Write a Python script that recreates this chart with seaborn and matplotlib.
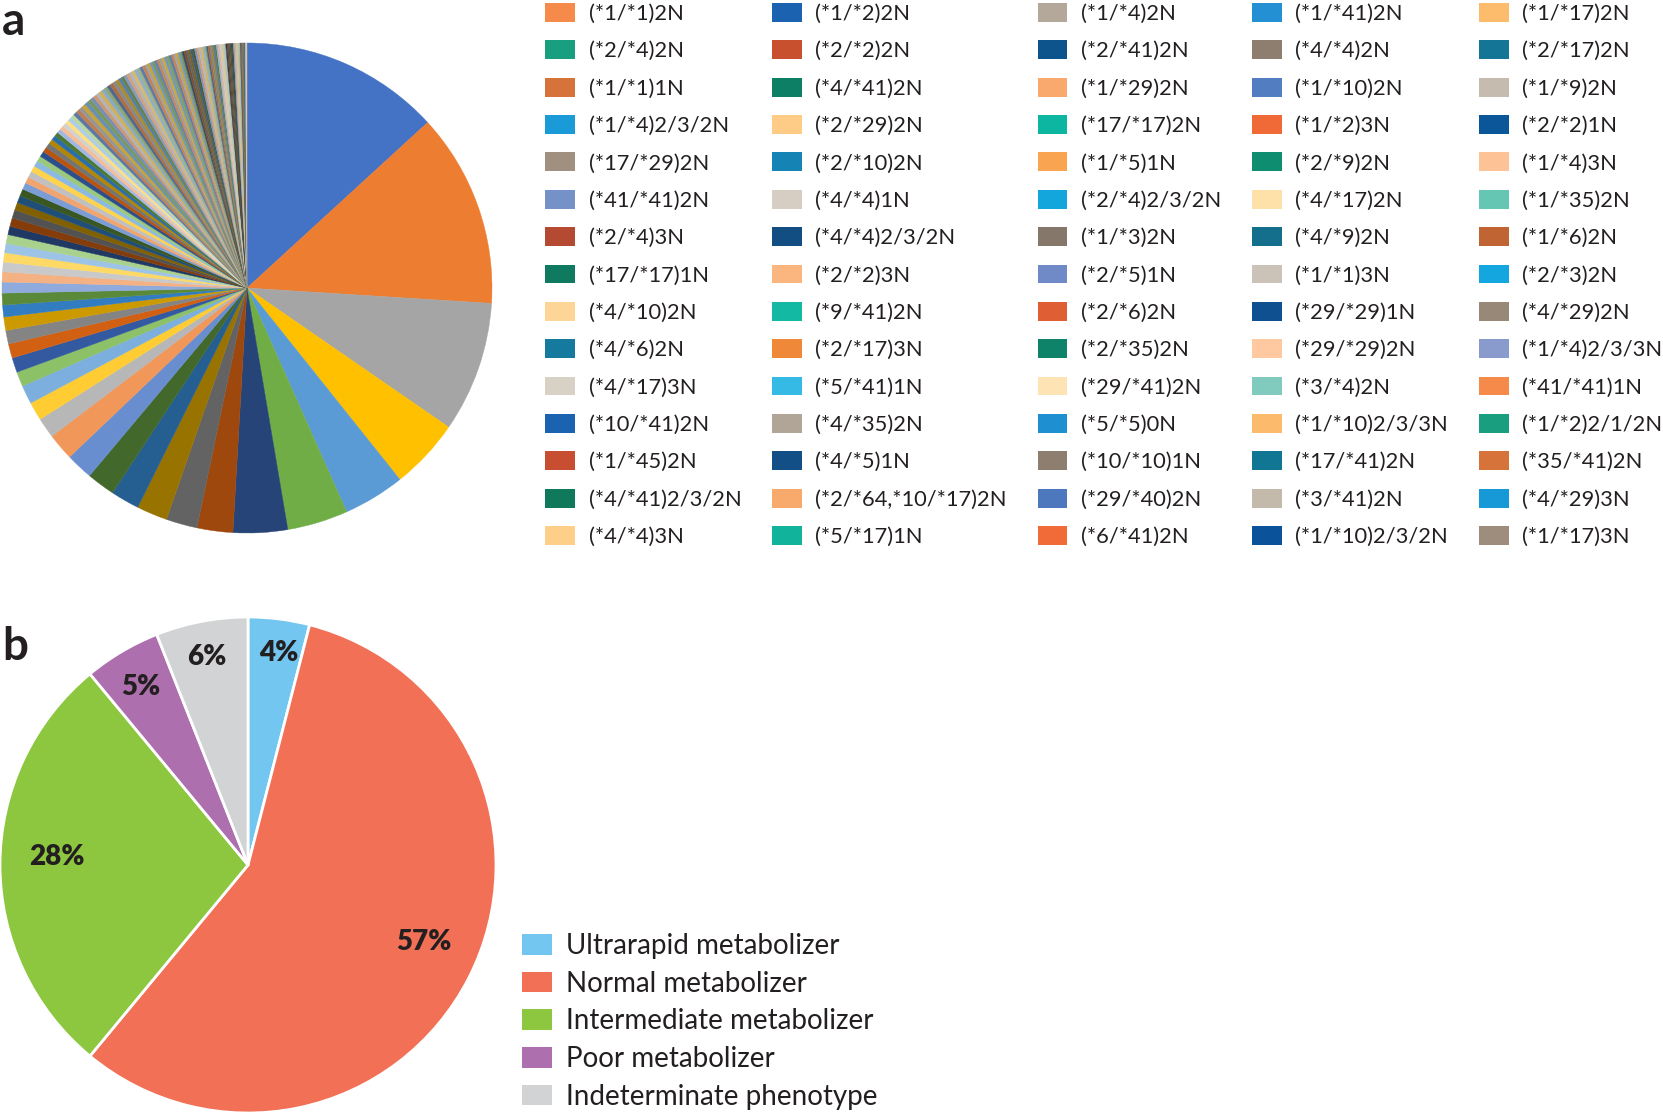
import colorsys
import numpy as np
import matplotlib
matplotlib.use("Agg")
import matplotlib.pyplot as plt
from matplotlib.patches import Patch
from matplotlib.colors import to_rgb, to_hex
import seaborn as sns

sns.set_theme(style="white")
plt.rcParams["font.family"] = ["Lato", "DejaVu Sans"]
TXT = "#231F20"

# ---------------- data: panel a (genotype shares, relative units) ----------------
genotype_freq = [
    47.5, 46.1, 31.0, 16.8, 14.6, 14.4, 12.9, 8.5, 7.4, 7.3,
    6.8, 6.7, 6.4, 6.4, 4.8, 4.4, 4.4, 3.5, 3.5, 3.4,
    3.2, 3.2, 2.8, 2.8, 2.6, 2.4, 2.3, 2.2, 2.2, 2.1,
    2.0, 2.0, 2.0, 1.8, 1.7, 1.7, 1.6, 1.5, 1.5, 1.4,
    1.4, 1.3, 1.3, 1.2, 1.2, 1.1, 1.1, 1.0, 1.0, 1.0,
    0.9, 0.9, 0.9, 0.9, 0.9, 0.9, 0.9, 0.9, 0.9, 0.9,
    0.8, 0.8, 0.8, 0.8, 0.8, 0.8, 0.8, 0.8, 0.8, 0.8,
    0.7, 0.7, 0.7, 0.7, 0.7, 0.7, 0.7, 0.7, 0.7, 0.7,
    0.6, 0.6, 0.6, 0.6, 0.6, 0.6, 0.6, 0.6, 0.6, 0.6, 0.6, 0.6,
    0.5, 0.5, 0.5, 0.5, 0.5, 0.5, 0.5, 0.5, 0.5, 0.5, 0.5, 0.5, 0.5, 0.5,
    0.4, 0.4, 0.4, 0.4, 0.4, 0.4, 0.4, 0.4, 0.4, 0.4, 0.4, 0.4,
    0.3, 0.3, 0.3, 0.3, 0.3, 0.3, 0.3, 0.3, 0.3, 0.3, 0.3, 0.3,
    0.2, 0.2, 0.2, 0.2, 0.2, 0.2, 0.2, 0.2, 0.2, 0.2,
]

legend_labels = [
    "(*1/*1)2N", "(*2/*4)2N", "(*1/*1)1N", "(*1/*4)2/3/2N", "(*17/*29)2N",
    "(*41/*41)2N", "(*2/*4)3N", "(*17/*17)1N", "(*4/*10)2N", "(*4/*6)2N",
    "(*4/*17)3N", "(*10/*41)2N", "(*1/*45)2N", "(*4/*41)2/3/2N", "(*4/*4)3N",
    "(*1/*2)2N", "(*2/*2)2N", "(*4/*41)2N", "(*2/*29)2N", "(*2/*10)2N",
    "(*4/*4)1N", "(*4/*4)2/3/2N", "(*2/*2)3N", "(*9/*41)2N", "(*2/*17)3N",
    "(*5/*41)1N", "(*4/*35)2N", "(*4/*5)1N", "(*2/*64,*10/*17)2N", "(*5/*17)1N",
    "(*1/*4)2N", "(*2/*41)2N", "(*1/*29)2N", "(*17/*17)2N", "(*1/*5)1N",
    "(*2/*4)2/3/2N", "(*1/*3)2N", "(*2/*5)1N", "(*2/*6)2N", "(*2/*35)2N",
    "(*29/*41)2N", "(*5/*5)0N", "(*10/*10)1N", "(*29/*40)2N", "(*6/*41)2N",
    "(*1/*41)2N", "(*4/*4)2N", "(*1/*10)2N", "(*1/*2)3N", "(*2/*9)2N",
    "(*4/*17)2N", "(*4/*9)2N", "(*1/*1)3N", "(*29/*29)1N", "(*29/*29)2N",
    "(*3/*4)2N", "(*1/*10)2/3/3N", "(*17/*41)2N", "(*3/*41)2N", "(*1/*10)2/3/2N",
    "(*1/*17)2N", "(*2/*17)2N", "(*1/*9)2N", "(*2/*2)1N", "(*1/*4)3N",
    "(*1/*35)2N", "(*1/*6)2N", "(*2/*3)2N", "(*4/*29)2N", "(*1/*4)2/3/3N",
    "(*41/*41)1N", "(*1/*2)2/1/2N", "(*35/*41)2N", "(*4/*29)3N", "(*1/*17)3N",
]

legend_colors = [
    "#F58A4B", "#1A9E80", "#D5733A", "#1A9BD7", "#A09080",
    "#7592C8", "#B54A32", "#107A60", "#FDD597", "#16799E",
    "#D8D1C6", "#1B62B0", "#C84E31", "#10795B", "#FECF88",
    "#1B62B0", "#C8502F", "#0D7F65", "#FFCC88", "#1683B5",
    "#D6CEC3", "#134E82", "#FBB57E", "#14B9A3", "#F0883A",
    "#35BAE6", "#B0A597", "#124F86", "#F8A96C", "#11B39A",
    "#B3A89A", "#0D548D", "#F9A86E", "#0DB6A0", "#F9A451",
    "#13A6DC", "#857769", "#6F8AC6", "#DF5E33", "#0E836A",
    "#FEE3B4", "#1E8FD0", "#8D7E70", "#4D78BD", "#F06B37",
    "#2290D2", "#8E7E6F", "#537DC1", "#F06A38", "#0E8D70",
    "#FEE1A8", "#136F8C", "#CBC3B8", "#0F5090", "#FEC9A0",
    "#80CBBE", "#FCBA6C", "#117594", "#C4BAAC", "#0A5299",
    "#FDBC6C", "#147596", "#C5BBAE", "#0B5599", "#FDC296",
    "#64C6B3", "#C06434", "#14A6DE", "#978878", "#889BCC",
    "#F58A4B", "#1A9E80", "#D5733A", "#1699D6", "#9E8D7C",
]

# ---------------- data: panel b ----------------
phenotypes = ["Ultrarapid metabolizer", "Normal metabolizer",
              "Intermediate metabolizer", "Poor metabolizer",
              "Indeterminate phenotype"]
phenotype_pct = [4, 57, 28, 5, 6]
phenotype_colors = ["#72C6EF", "#F27055", "#8DC63F", "#AD6FAD", "#D1D3D4"]

# Office-style palette cycling for the many slices of panel a
office_base = ["#4472C4", "#ED7D31", "#A5A5A5", "#FFC000", "#5B9BD5", "#70AD47"]
lum_steps = [(1, 0), (0.6, 0), (0.8, 0.2), (0.8, 0), (0.6, 0.4), (0.5, 0),
             (0.7, 0.3), (0.7, 0), (0.5, 0.5), (0.6, 0.2), (0.85, 0.15),
             (0.75, 0.05), (0.55, 0.35), (0.9, 0.05), (0.65, 0.2)]


def office_color(i):
    base = office_base[i % 6]
    mod, off = lum_steps[(i // 6) % len(lum_steps)]
    h, l, s = colorsys.rgb_to_hls(*to_rgb(base))
    l = min(1.0, l * mod + off)
    if i >= 54:
        s = s * 0.55
    return to_hex(colorsys.hls_to_rgb(h, l, s))


pie_colors = sns.color_palette([office_color(i) for i in range(len(genotype_freq))])

W, H = 1663, 1116
fig = plt.figure(figsize=(W / 100, H / 100), dpi=100)


def px_axes(cx, cy, r):
    return fig.add_axes([(cx - r) / W, (H - cy - r) / H, 2 * r / W, 2 * r / H])


# ---------------- panel a ----------------
ax_a = px_axes(247, 288, 245)
wedges, _ = ax_a.pie(genotype_freq, colors=pie_colors, startangle=90,
                     counterclock=False, radius=1)
for w in wedges:
    w.set_edgecolor(w.get_facecolor())
    w.set_linewidth(0.3)
ax_a.set_xlim(-1, 1)
ax_a.set_ylim(-1, 1)
ax_a.axis("off")

fig.legend(handles=[Patch(facecolor=c, edgecolor="none") for c in legend_colors],
           labels=legend_labels, ncol=5, loc="upper left",
           bbox_to_anchor=(545 / W, 1 - 3 / H), frameon=False, fontsize=15.75,
           handlelength=1.36, handleheight=0.95, handletextpad=0.63,
           columnspacing=1.4, labelspacing=0.75, borderpad=0, borderaxespad=0,
           labelcolor=TXT)

# ---------------- panel b ----------------
ax_b = px_axes(248, 865, 248)
wedges_b, _ = ax_b.pie(
    phenotype_pct, colors=phenotype_colors, startangle=90, counterclock=False,
    wedgeprops=dict(edgecolor="white", linewidth=2))
# percentage labels placed near each slice's mid-angle
label_r = [0.864, 0.775, 0.77, 0.84, 0.855]
label_dang = [1.0, -3.4, 2.4, -0.5, -0.3]
cum = np.cumsum([0] + phenotype_pct)
total = cum[-1]
for i, p in enumerate(phenotype_pct):
    mid = (cum[i] + cum[i + 1]) / 2 / total * 360 + label_dang[i]
    th = np.deg2rad(mid)
    ax_b.text(label_r[i] * np.sin(th), label_r[i] * np.cos(th), f"{p}%",
              ha="center", va="center", fontsize=20, fontweight="heavy",
              color=TXT)
ax_b.set_xlim(-1, 1)
ax_b.set_ylim(-1, 1)
ax_b.axis("off")

fig.legend(handles=[Patch(facecolor=c, edgecolor="none") for c in phenotype_colors],
           labels=phenotypes, loc="upper left",
           bbox_to_anchor=(522 / W, 1 - 933 / H), frameon=False, fontsize=20,
           handlelength=1.08, handleheight=0.76, handletextpad=0.5,
           labelspacing=0.42, borderpad=0, borderaxespad=0, labelcolor=TXT)

# panel letters
fig.text(2 / W, 1 - 35 / H, "a", fontsize=33, fontweight="bold", color=TXT,
         ha="left", va="baseline")
fig.text(2 / W, 1 - 660 / H, "b", fontsize=33, fontweight="bold", color=TXT,
         ha="left", va="baseline")

fig.savefig("out.png", dpi=100)
